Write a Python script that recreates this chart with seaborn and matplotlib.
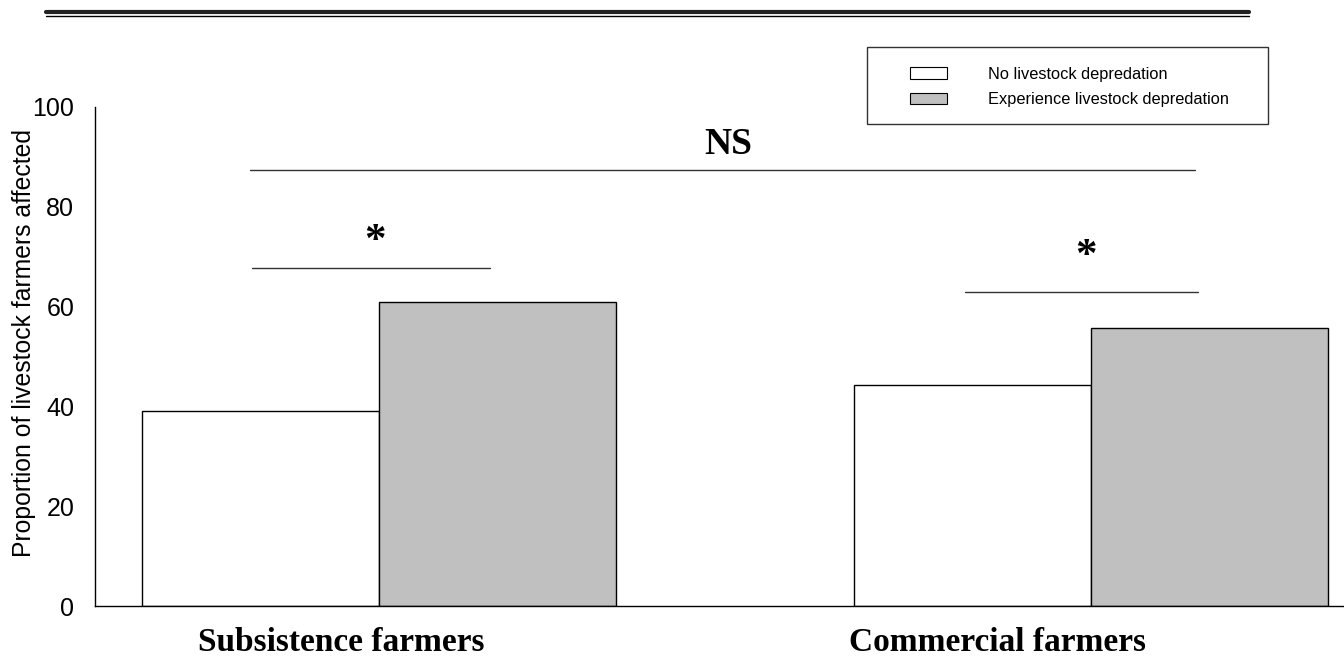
import matplotlib
matplotlib.use("Agg")
import matplotlib.pyplot as plt
import seaborn as sns
import pandas as pd
from matplotlib.lines import Line2D
from matplotlib.patches import Patch, Rectangle

# ---- data ----
groups = ["Subsistence farmers", "Commercial farmers"]
statuses = ["No livestock depredation", "Experience livestock depredation"]
no_depredation = [39.0, 44.3]
experience_depredation = [61.0, 55.7]
yticks = [0, 20, 40, 60, 80, 100]
ylabel = "Proportion of livestock farmers affected"

# significance annotations: (x_start, x_end, y_line, x_text, y_text, text)
sig_within = [(-0.178, 0.156, 67.8, -0.006, 73.0, "*"),
              (0.823, 1.150, 62.9, 0.992, 70.0, "*")]
sig_between = (-0.181, 1.146, 87.4, 0.49, 92.4, "NS")

df = pd.DataFrame({
    "group": groups * 2,
    "status": [statuses[0]] * 2 + [statuses[1]] * 2,
    "value": no_depredation + experience_depredation,
})

sns.set_style("white")
plt.rcParams["font.family"] = ["Liberation Sans", "DejaVu Sans"]
plt.rcParams.update({"text.color": "black", "axes.labelcolor": "black",
                     "xtick.color": "black", "ytick.color": "black"})

fig = plt.figure(figsize=(13.44, 6.57), dpi=100)
ax = fig.add_axes([95 / 1344, 1 - 606 / 657, 1 - 95 / 1344, (606 - 107) / 657])

colors = ["white", "#c0c0c0"]
sns.barplot(data=df, x="group", y="value", hue="status", order=groups,
            hue_order=statuses, palette=colors, edgecolor="black",
            linewidth=1.0, width=0.666, ax=ax, legend=False)

ax.set_xlim(-0.399, 1.355)
ax.set_ylim(0, 100)
ax.set_yticks(yticks)
ax.set_yticklabels([str(t) for t in yticks], fontsize=18)
ax.tick_params(axis="y", direction="out", length=10, width=1, colors="black", pad=5)
ax.tick_params(axis="x", length=0, pad=15)
ax.set_xticks([-0.053, 0.868])
ax.set_xticklabels(groups, fontsize=24, fontweight="bold",
                   family=["Liberation Serif"])
ax.set_xlabel("")
ax.set_ylabel(ylabel, fontsize=17.8, color="black")
ax.yaxis.set_label_coords(-0.047, 0.527)

for s in ["top", "right"]:
    ax.spines[s].set_visible(False)
for s in ["left", "bottom"]:
    ax.spines[s].set_color("black")
    ax.spines[s].set_linewidth(1.0)

# significance marks
for x0, x1, yl, xt, yt, txt in sig_within:
    ax.plot([x0, x1], [yl, yl], color="#333333", lw=1.0, clip_on=False)
    ax.text(xt, yt, txt, ha="center", va="center", fontsize=31,
            fontweight="bold", family=["Liberation Serif"], color="black")
x0, x1, yl, xt, yt, txt = sig_between
ax.plot([x0, x1], [yl, yl], color="#333333", lw=1.0, clip_on=False)
ax.text(xt, yt, txt, ha="center", va="center", fontsize=27,
        fontweight="bold", family=["Liberation Serif"], color="black")

# legend (frameless) with a separate box
handles = [Patch(facecolor=c, edgecolor="black", linewidth=0.8) for c in colors]
leg = fig.legend(handles, statuses, loc="upper left",
                 bbox_to_anchor=(910 / 1344, 1 - 67 / 657),
                 fontsize=11.8, frameon=False,
                 handlelength=2.25, handleheight=0.72, handletextpad=2.5,
                 borderpad=0, labelspacing=0.62, borderaxespad=0)
fig.add_artist(Rectangle((867 / 1344, 1 - 124 / 657), (1268 - 867) / 1344,
                         (124 - 47) / 657, transform=fig.transFigure,
                         facecolor="none", edgecolor="#333333", lw=1.0))

# top double rule
fig.add_artist(Line2D([46 / 1344, 1249 / 1344], [1 - 12 / 657, 1 - 12 / 657],
                      color="#222222", lw=3.0, transform=fig.transFigure))
fig.add_artist(Line2D([46 / 1344, 1249 / 1344], [1 - 15.5 / 657, 1 - 15.5 / 657],
                      color="black", lw=1.0, transform=fig.transFigure))

fig.savefig("out.png", dpi=100)
